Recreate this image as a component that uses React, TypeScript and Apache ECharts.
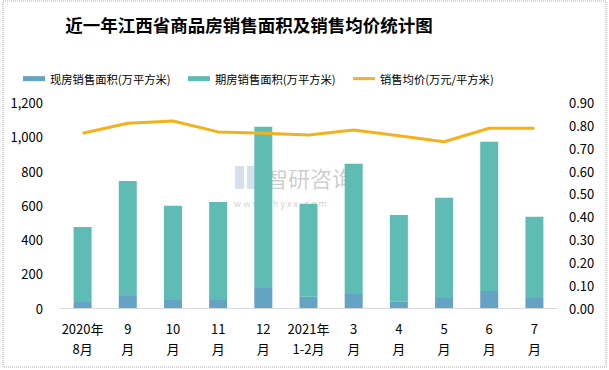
import React, { useEffect, useRef } from "react";
import * as echarts from "echarts";

const categories = ["2020年\n8月", "9\n月", "10\n月", "11\n月", "12\n月", "2021年\n1-2月", "3\n月", "4\n月", "5\n月", "6\n月", "7\n月"];
const spotArea = [35, 70, 47, 47, 117, 66, 82, 37, 59, 100, 59];
const totalArea = [474, 743, 597, 620, 1060, 609, 843, 544, 644, 972, 533];
const futuresArea = totalArea.map((t, i) => t - spotArea[i]);
const avgPrice = [0.766, 0.81, 0.82, 0.772, 0.766, 0.758, 0.78, 0.755, 0.729, 0.788, 0.788];

const nameSpot = "现房销售面积(万平方米)";
const nameFut = "期房销售面积(万平方米)";
const namePrice = "销售均价(万元/平方米)";

const FONT = "'Noto Sans CJK SC', 'Noto Sans', sans-serif";

export default function App() {
  const ref = useRef<HTMLDivElement>(null);
  useEffect(() => {
    const chart = echarts.init(ref.current!, undefined, { renderer: "svg" });
    const legendBase = {
      top: 73,
      padding: 0,
      itemWidth: 22,
      itemHeight: 5,
      icon: "rect",
      textStyle: { fontSize: 11.3, color: "#000", fontFamily: FONT },
    };
    chart.setOption({
      animation: false,
      backgroundColor: "#fff",
      textStyle: { fontFamily: FONT },
      title: {
        text: "近一年江西省商品房销售面积及销售均价统计图",
        left: 244,
        textAlign: "center",
        top: 11,
        textStyle: { fontSize: 17.5, fontWeight: "bold", color: "#000", fontFamily: FONT },
      },
      legend: [
        { ...legendBase, left: 23, data: [nameSpot] },
        { ...legendBase, left: 188, data: [nameFut] },
        { ...legendBase, left: 353, itemHeight: 3, data: [{ name: namePrice, itemStyle: { color: "#F2B21D" } }] },
      ],
      grid: { left: 60, right: 52, top: 102.7, bottom: 62 },
      xAxis: {
        type: "category",
        data: categories,
        axisLine: { lineStyle: { color: "#D9D9D9" } },
        axisTick: { show: false },
        axisLabel: { color: "#000", fontSize: 13, lineHeight: 20, margin: 10, interval: 0 },
      },
      yAxis: [
        {
          type: "value",
          min: 0,
          max: 1200,
          interval: 200,
          splitLine: { show: false },
          axisLine: { show: false },
          axisTick: { show: false },
          axisLabel: {
            color: "#000",
            fontSize: 13,
            margin: 17,
            formatter: (v: number) => v.toLocaleString("en-US"),
          },
        },
        {
          type: "value",
          min: 0,
          max: 0.9,
          interval: 0.1,
          splitLine: { show: false },
          axisLine: { show: false },
          axisTick: { show: false },
          axisLabel: { color: "#000", fontSize: 13, margin: 12, formatter: (v: number) => v.toFixed(2) },
        },
      ],
      series: [
        {
          name: nameSpot,
          type: "bar",
          stack: "area",
          barWidth: 18,
          data: spotArea,
          itemStyle: { color: "#64A3C3" },
        },
        {
          name: nameFut,
          type: "bar",
          stack: "area",
          barWidth: 18,
          data: futuresArea,
          itemStyle: { color: "#5EBCB5" },
        },
        {
          name: namePrice,
          type: "line",
          yAxisIndex: 1,
          data: avgPrice,
          symbol: "none",
          lineStyle: { color: "#F2B21D", width: 3 },
          itemStyle: { color: "#F2B21D" },
        },
      ],
      graphic: [
        {
          type: "rect",
          shape: { x: 3, y: 1, width: 603, height: 366 },
          style: { fill: "none", stroke: "#A6A6A6", lineWidth: 1, lineDash: [1, 1] },
          silent: true,
        },
        {
          type: "group",
          z: 100,
          silent: true,
          children: [
            {
              type: "rect",
              shape: { x: 235, y: 166, width: 9, height: 23 },
              style: { fill: "rgba(140,160,200,0.35)" },
            },
            {
              type: "rect",
              shape: { x: 247, y: 166, width: 11, height: 23 },
              style: { fill: "rgba(140,160,200,0.35)" },
            },
            {
              type: "text",
              x: 266,
              y: 166,
              style: { text: "智研咨询", fontSize: 22, fill: "rgba(110,110,110,0.35)", fontFamily: FONT },
            },
            {
              type: "text",
              x: 234,
              y: 199,
              style: { text: "w w w . c h y x x . c o m", fontSize: 9, fill: "rgba(110,110,110,0.35)", fontFamily: FONT },
            },
          ],
        },
      ],
    });
    return () => chart.dispose();
  }, []);
  return <div ref={ref} style={{ position: "absolute", left: 0, top: 0, width: 609, height: 370 }} />;
}
